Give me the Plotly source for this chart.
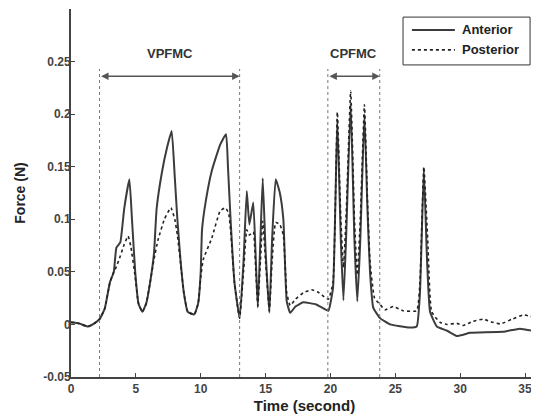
import plotly.graph_objects as go

# ---- data ----
t_anterior = [0.0, 0.6, 1.3, 1.8, 2.2, 2.6, 3.0, 3.3, 3.5, 3.8, 4.1, 4.5, 4.7, 4.95, 5.2, 5.5,
              5.8, 6.1, 6.4, 6.6, 7.0, 7.4, 7.76, 8.0, 8.2, 8.45, 8.7, 9.0, 9.5, 9.8, 10.0,
              10.1, 10.4, 10.85, 11.5, 11.95, 12.1, 12.3, 12.6, 13.0, 13.3, 13.55, 13.75,
              14.05, 14.25, 14.4, 14.6, 14.78, 15.0, 15.29, 15.5, 15.78, 16.1, 16.37, 16.63,
              16.9, 17.3, 17.9, 18.9, 19.5, 19.84, 20.2, 20.53, 20.8, 21.0, 21.2, 21.56,
              21.85, 22.07, 22.3, 22.62, 22.85, 23.05, 23.3, 23.82, 24.6, 26.1, 26.65, 26.9,
              27.2, 27.45, 27.68, 28.2, 29.0, 29.74, 30.76, 31.5, 33.3, 34.6, 35.1, 36.0]
f_anterior = [0.002, 0.001, -0.002, 0.001, 0.005, 0.015, 0.040, 0.050, 0.073, 0.078, 0.110,
              0.138, 0.100, 0.050, 0.020, 0.012, 0.020, 0.040, 0.068, 0.110, 0.144, 0.168,
              0.184, 0.140, 0.100, 0.060, 0.030, 0.012, 0.0095, 0.020, 0.050, 0.090, 0.118,
              0.146, 0.171, 0.181, 0.150, 0.100, 0.040, 0.006, 0.060, 0.127, 0.095, 0.116,
              0.060, 0.016, 0.080, 0.139, 0.070, 0.011, 0.080, 0.138, 0.125, 0.100, 0.022,
              0.011, 0.017, 0.021, 0.019, 0.015, 0.013, 0.035, 0.195, 0.080, 0.023, 0.080,
              0.210, 0.080, 0.022, 0.080, 0.200, 0.110, 0.050, 0.016, 0.006, 0.000, -0.003,
              -0.002, 0.030, 0.147, 0.060, 0.012, -0.002, -0.006, -0.011, -0.008, -0.0076,
              -0.007, -0.004, -0.005, -0.007]

t_posterior = [0.0, 0.6, 1.3, 1.8, 2.2, 2.6, 3.0, 3.3, 3.5, 3.8, 4.1, 4.4, 4.6, 4.95, 5.2, 5.5,
               5.8, 6.1, 6.4, 6.7, 7.2, 7.7, 8.0, 8.2, 8.45, 8.7, 9.0, 9.5, 9.8, 10.0, 10.2,
               10.85, 11.5, 11.9, 12.15, 12.3, 12.6, 13.0, 13.3, 13.55, 13.75, 14.05, 14.25,
               14.4, 14.6, 14.78, 15.0, 15.29, 15.5, 15.78, 16.1, 16.37, 16.63, 16.9, 17.3,
               17.9, 18.55, 19.0, 19.45, 19.84, 20.2, 20.53, 20.8, 21.0, 21.2, 21.56, 21.85,
               22.07, 22.3, 22.62, 22.85, 23.05, 23.4, 23.82, 24.2, 24.85, 25.6, 26.65, 26.9,
               27.2, 27.5, 27.8, 28.45, 29.0, 29.74, 30.25, 31.0, 31.8, 32.5, 33.1, 34.0,
               34.9, 35.9]
f_posterior = [0.002, 0.001, -0.002, 0.001, 0.005, 0.015, 0.040, 0.050, 0.055, 0.065, 0.076,
               0.084, 0.075, 0.045, 0.020, 0.012, 0.020, 0.040, 0.062, 0.080, 0.100, 0.111,
               0.100, 0.085, 0.058, 0.030, 0.012, 0.0095, 0.020, 0.045, 0.062, 0.082, 0.108,
               0.111, 0.106, 0.090, 0.040, 0.006, 0.050, 0.090, 0.085, 0.088, 0.050, 0.018,
               0.060, 0.098, 0.060, 0.013, 0.060, 0.097, 0.095, 0.085, 0.030, 0.018, 0.024,
               0.030, 0.033, 0.031, 0.027, 0.024, 0.040, 0.202, 0.100, 0.054, 0.100, 0.222,
               0.100, 0.047, 0.100, 0.209, 0.120, 0.060, 0.025, 0.019, 0.014, 0.017, 0.013,
               0.013, 0.040, 0.150, 0.080, 0.012, 0.002, 0.000, 0.001, -0.001, 0.003, 0.005,
               0.002, 0.0005, 0.005, 0.009, 0.006]

series_names = ["Anterior", "Posterior"]
boundaries = [2.2, 13.0, 19.8, 23.8]
phase_labels = ["VPFMC", "CPFMC"]

x_ticks = [0, 5, 10, 15, 20, 25, 30, 35]
x_tick_text = ["0", "5", "10", "15", "20", "25", "30", "35"]
y_ticks = [-0.05, 0, 0.05, 0.1, 0.15, 0.2, 0.25]
y_tick_text = ["-0.05", "0", "0.05", "0.1", "0.15", "0.2", "0.25"]

marker_top = 0.243
arrow_y = 0.236
label_y = 0.258

FONT = "Arial, Liberation Sans, sans-serif"
styles = [dict(color="#3c3c3c", width=2), dict(color="#222222", width=1.6, dash="dot")]

fig = go.Figure()
fig.add_trace(go.Scatter(x=t_anterior, y=f_anterior, mode="lines", name=series_names[0],
                         line=dict(**styles[0], shape="spline", smoothing=0.4)))
fig.add_trace(go.Scatter(x=t_posterior, y=f_posterior, mode="lines", name=series_names[1],
                         line=dict(**styles[1], shape="spline", smoothing=0.4)))

for b in boundaries:
    fig.add_shape(type="line", xref="x", yref="y", x0=b, x1=b, y0=-0.05, y1=marker_top,
                  line=dict(color="#777777", width=1, dash="dot"))

for i, lab in enumerate(phase_labels):
    a, b = boundaries[2 * i], boundaries[2 * i + 1]
    fig.add_annotation(x=b, y=arrow_y, ax=a, ay=arrow_y, xref="x", yref="y", axref="x", ayref="y",
                       text="", showarrow=True, arrowhead=2, arrowside="end+start",
                       arrowsize=1, arrowwidth=1.5, arrowcolor="#555555")
    fig.add_annotation(x=(a + b) / 2, y=label_y, xref="x", yref="y", text="<b>%s</b>" % lab,
                       showarrow=False, font=dict(family=FONT, size=13, color="#333333"))

# hand-drawn legend box (paper coordinates)
fig.add_shape(type="rect", xref="paper", yref="paper", x0=0.711, x1=0.983, y0=0.848, y1=0.978,
              line=dict(color="#333333", width=1), fillcolor="white", layer="above")
for i, name in enumerate(series_names):
    yy = 0.943 - i * 0.054
    fig.add_shape(type="line", xref="paper", yref="paper", x0=0.730, x1=0.822, y0=yy, y1=yy,
                  line=styles[i], layer="above")
    fig.add_annotation(x=0.833, y=yy, xref="paper", yref="paper", text="<b>%s</b>" % name,
                       xanchor="left", yanchor="middle", showarrow=False,
                       font=dict(family=FONT, size=13, color="#222222"))

fig.update_layout(
    width=531, height=410,
    margin=dict(l=63, r=1, t=1, b=41, autoexpand=False),
    paper_bgcolor="white", plot_bgcolor="white",
    font=dict(family=FONT, color="#333333"),
    showlegend=False,
)
fig.update_xaxes(range=[0, 36], tickmode="array", tickvals=x_ticks,
                 ticktext=["<b>%s</b>" % s for s in x_tick_text], automargin=False,
                 showline=True, linecolor="#444444", linewidth=2, mirror=False,
                 ticks="inside", ticklen=4, tickcolor="#444444", showgrid=False, zeroline=False,
                 tickfont=dict(family=FONT, size=12, color="#444444"),
                 title=dict(text="<b>Time (second)</b>", standoff=5,
                            font=dict(family=FONT, size=15, color="#222222")))
fig.update_yaxes(range=[-0.05, 0.3], tickmode="array", tickvals=y_ticks,
                 ticktext=["<b>%s</b>" % s for s in y_tick_text], automargin=False,
                 showline=True, linecolor="#444444", linewidth=2, mirror=False,
                 ticks="inside", ticklen=4, tickcolor="#444444", showgrid=False, zeroline=False,
                 ticklabelstandoff=-4,
                 tickfont=dict(family=FONT, size=12, color="#444444"),
                 title=dict(text="<b>Force (N)</b>", standoff=14,
                            font=dict(family=FONT, size=14, color="#222222")))

fig.write_html("out.html")
